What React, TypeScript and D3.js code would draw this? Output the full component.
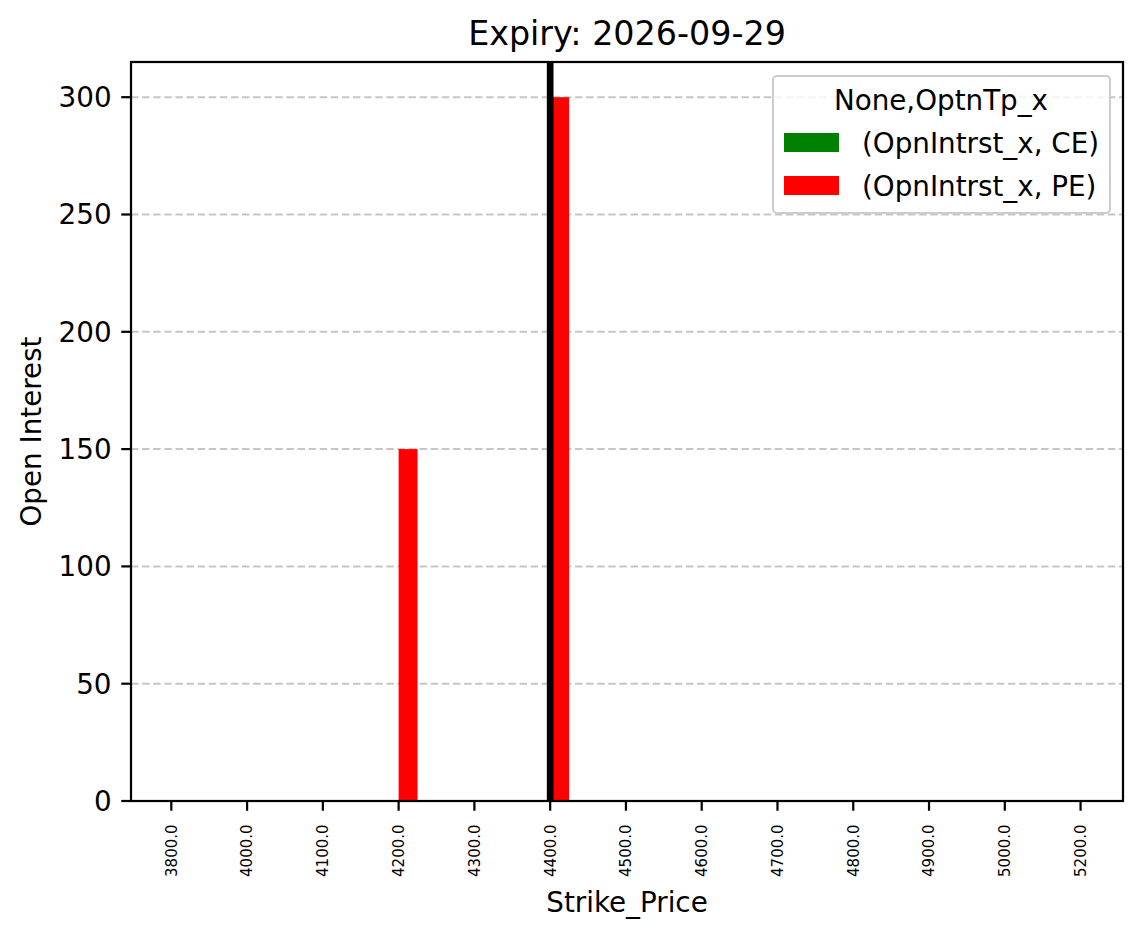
import React, { useEffect, useRef } from "react";
import * as d3 from "d3";

// Strike prices (category axis) and open interest per option type
const strikes = ["3800.0", "4000.0", "4100.0", "4200.0", "4300.0", "4400.0", "4500.0", "4600.0", "4700.0", "4800.0", "4900.0", "5000.0", "5200.0"];
const ceOpenInterest = [0, 0, 0, 0, 0, 0, 0, 0, 0, 0, 0, 0, 0];
const peOpenInterest = [0, 0, 0, 150, 0, 300, 0, 0, 0, 0, 0, 0, 0];
const yTicks = [0, 50, 100, 150, 200, 250, 300];
const markerStrike = "4400.0";
const seriesNames = ["(OpnIntrst_x, CE)", "(OpnIntrst_x, PE)"];
const seriesColors = ["#008000", "#ff0000"];
const legendTitle = "None,OptnTp_x";
const titleText = "Expiry: 2026-09-29";

const W = 1143;
const H = 939;
const plot = { left: 131, right: 1123, top: 62, bottom: 801 };
const FONT = "DejaVu Sans, sans-serif";
const PT = 200 / 72;

export default function App() {
  const ref = useRef<SVGSVGElement | null>(null);

  useEffect(() => {
    document.body.style.margin = "0";
    const svg = d3.select(ref.current);
    svg.selectAll("*").remove();

    const x = d3.scaleLinear().domain([-0.532, 12.56]).range([plot.left, plot.right]);
    const y = d3.scaleLinear().domain([0, 315]).range([plot.bottom, plot.top]);
    const barW = 0.25;
    const tickLen = 3.5 * PT;
    const lw = 0.8 * PT;

    svg.append("rect").attr("width", W).attr("height", H).attr("fill", "#fff");

    // horizontal dashed grid
    svg.append("g")
      .selectAll("line")
      .data(yTicks)
      .join("line")
      .attr("x1", plot.left)
      .attr("x2", plot.right)
      .attr("y1", (d) => y(d))
      .attr("y2", (d) => y(d))
      .attr("stroke", "#c6c6c6")
      .attr("stroke-width", 2)
      .attr("stroke-dasharray", "7.5,3.6");

    // bars: CE to the left of each tick, PE to the right
    const series = [ceOpenInterest, peOpenInterest];
    series.forEach((vals, s) => {
      svg.append("g")
        .selectAll("rect")
        .data(vals.map((v, i) => ({ v, i })))
        .join("rect")
        .attr("x", (d) => x(d.i + (s === 0 ? -barW : 0)))
        .attr("width", (d) => x(d.i + barW) - x(d.i))
        .attr("y", (d) => y(d.v))
        .attr("height", (d) => y(0) - y(d.v))
        .attr("fill", seriesColors[s]);
    });

    // vertical marker at the selected strike
    const mi = strikes.indexOf(markerStrike);
    svg.append("line")
      .attr("x1", x(mi))
      .attr("x2", x(mi))
      .attr("y1", plot.top)
      .attr("y2", plot.bottom)
      .attr("stroke", "#000")
      .attr("stroke-width", 6.7);

    // frame
    svg.append("rect")
      .attr("x", plot.left)
      .attr("y", plot.top)
      .attr("width", plot.right - plot.left)
      .attr("height", plot.bottom - plot.top)
      .attr("fill", "none")
      .attr("stroke", "#000")
      .attr("stroke-width", lw);

    // y ticks
    const yg = svg.append("g");
    yTicks.forEach((t) => {
      yg.append("line")
        .attr("x1", plot.left - tickLen)
        .attr("x2", plot.left)
        .attr("y1", y(t))
        .attr("y2", y(t))
        .attr("stroke", "#000")
        .attr("stroke-width", lw);
      yg.append("text")
        .attr("x", plot.left - tickLen - 3.5 * PT)
        .attr("y", y(t))
        .attr("dy", "0.36em")
        .attr("text-anchor", "end")
        .attr("font-family", FONT)
        .attr("font-size", 10 * PT)
        .text(String(t));
    });

    // x ticks with vertical labels
    const xg = svg.append("g");
    strikes.forEach((s, i) => {
      const px = x(i);
      xg.append("line")
        .attr("x1", px)
        .attr("x2", px)
        .attr("y1", plot.bottom)
        .attr("y2", plot.bottom + tickLen)
        .attr("stroke", "#000")
        .attr("stroke-width", lw);
      xg.append("text")
        .attr("transform", `translate(${px},${plot.bottom + tickLen + 3.5 * PT + 4}) rotate(-90)`)
        .attr("dy", "0.36em")
        .attr("text-anchor", "end")
        .attr("font-family", FONT)
        .attr("font-size", 15)
        .text(s);
    });

    // axis labels and title
    svg.append("text")
      .attr("x", (plot.left + plot.right) / 2)
      .attr("y", 912)
      .attr("text-anchor", "middle")
      .attr("font-family", FONT)
      .attr("font-size", 10 * PT)
      .text("Strike_Price");
    svg.append("text")
      .attr("transform", `translate(40.5,${(plot.top + plot.bottom) / 2}) rotate(-90)`)
      .attr("text-anchor", "middle")
      .attr("font-family", FONT)
      .attr("font-size", 10 * PT)
      .text("Open Interest");
    svg.append("text")
      .attr("x", (plot.left + plot.right) / 2)
      .attr("y", 45)
      .attr("text-anchor", "middle")
      .attr("font-family", FONT)
      .attr("font-size", 12 * PT)
      .text(titleText);

    // legend
    const lg = svg.append("g");
    lg.append("rect")
      .attr("x", 773)
      .attr("y", 76)
      .attr("width", 337)
      .attr("height", 137)
      .attr("rx", 4)
      .attr("fill", "#fff")
      .attr("fill-opacity", 0.8)
      .attr("stroke", "#cccccc")
      .attr("stroke-width", 2);
    lg.append("text")
      .attr("x", 941)
      .attr("y", 110)
      .attr("text-anchor", "middle")
      .attr("font-family", FONT)
      .attr("font-size", 10 * PT)
      .text(legendTitle);
    seriesNames.forEach((name, k) => {
      const cy = 142.5 + k * 43;
      lg.append("rect")
        .attr("x", 784)
        .attr("y", cy - 9.5)
        .attr("width", 55)
        .attr("height", 19)
        .attr("fill", seriesColors[k]);
      lg.append("text")
        .attr("x", 862)
        .attr("y", cy)
        .attr("dy", "0.36em")
        .attr("font-family", FONT)
        .attr("font-size", 10 * PT)
        .text(name);
    });
  }, []);

  return <svg ref={ref} width={W} height={H} style={{ display: "block" }} />;
}
